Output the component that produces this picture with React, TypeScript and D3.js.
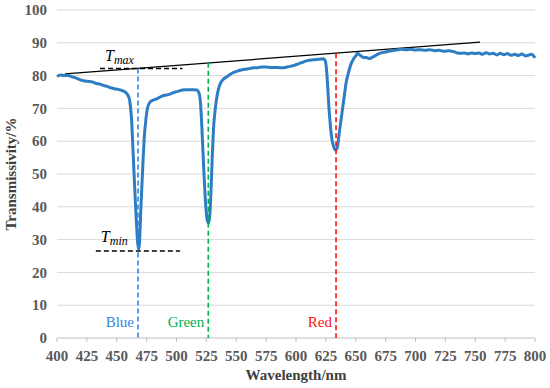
import React from 'react';
import * as d3 from 'd3';

const wavelength = [
  400, 403, 406, 409, 412, 415, 418, 421, 424, 427, 430, 433, 436, 439, 442, 445, 448, 451, 454, 457,
  459, 460.5, 461.5, 462.5, 463.5, 464.5, 465.5, 466.5, 467.5, 468.3, 469.3, 470, 471, 472, 473, 474.5,
  476, 478, 481, 484, 487, 490, 493, 496, 499, 502, 505, 508, 511, 514, 517, 519, 520, 521, 522, 523,
  524, 525, 526, 527, 528, 529, 530, 531, 532.5, 534, 536, 539, 542, 545, 548, 551, 555, 559, 563, 567,
  571, 575, 579, 583, 587, 591, 595, 599, 602, 605, 608, 611, 614, 617, 620, 623, 624.5, 625.5, 626.5,
  627.5, 628.5, 629.5, 631, 633, 634.5, 636, 637.5, 639, 640.5, 642, 644, 646, 648, 650, 651.5, 653,
  655, 657, 659, 661, 663, 666, 669, 672, 676, 680, 684, 688, 692, 696, 700, 704, 708, 712, 716, 720,
  724, 728, 732, 735, 738, 741, 744, 747, 750, 753, 756, 759, 762, 765, 768, 771, 774, 777, 780, 783,
  786, 789, 792, 795, 797, 800,
];
const transmissivity = [
  79.7, 80.2, 80.0, 80.1, 79.7, 79.4, 78.9, 78.5, 78.3, 78.2, 78.0, 77.6, 77.4, 77.0, 76.7, 76.3, 76.0, 75.8, 75.5, 75.0,
  74.2, 73.0, 70.5, 66, 58, 50, 42, 35, 29, 27.2, 31, 38, 46, 54, 61, 67,
  70.5, 72, 72.6, 73.0, 73.6, 74.0, 74.2, 74.6, 75.0, 75.3, 75.6, 75.7, 75.7, 75.7, 75.6, 74.5, 72, 66, 58, 50,
  43, 38, 35.5, 35, 38, 46, 56, 64, 70, 74, 77, 78.8, 79.6, 80.4, 81.0, 81.4, 81.8, 82.0, 82.3, 82.4,
  82.6, 82.6, 82.5, 82.5, 82.4, 82.5, 82.8, 83.2, 83.6, 84.0, 84.4, 84.7, 84.8, 84.9, 85.0, 85.1, 84.5, 82, 77,
  70.5, 66, 62, 59, 57.3, 58, 62, 66, 70, 74, 78, 81, 83.5, 85, 86, 86.8, 86.4,
  85.8, 85.5, 85.5, 85.2, 85.4, 86, 86.6, 87, 87.3, 87.6, 87.8, 88.0, 87.9, 88.0, 87.8, 87.9, 87.7, 87.9, 87.6, 87.7,
  87.4, 87.6, 87.3, 86.9, 86.8, 86.9, 86.6, 86.9, 86.7, 86.9, 86.5, 87.0, 86.6, 86.8, 86.3, 86.8, 86.4, 86.7, 86.2, 86.5,
  86.1, 86.6, 86.0, 86.3, 86.5, 85.4,
];

const xTicks = d3.range(400, 801, 25);
const yTicks = d3.range(0, 101, 10);

// tangent line through the maxima
const tangentX = [406.7, 754];
const tangentY = [80.5, 90.2];

// peak markers
const peakNames = ['Blue', 'Green', 'Red'];
const peakWavelength = [467.8, 526.6, 633.5];
const peakTop = [82.2, 83.9, 86.8];
const peakColors = ['#2E86DE', '#00B050', '#FF1010'];

// Tmax / Tmin guides
const tMaxLevel = 82.2;
const tMaxRange = [436, 505];
const tMinLevel = 26.5;
const tMinRange = [432.5, 503];

const serif = 'Liberation Serif, serif';

export default function App() {
  const width = 550;
  const height = 388;
  const margin = {
    top: 10, right: 15, bottom: 50, left: 57,
  };
  const innerWidth = width - margin.left - margin.right;
  const innerHeight = height - margin.top - margin.bottom;

  const xScale = d3.scaleLinear().domain([400, 800]).range([0, innerWidth]);
  const yScale = d3.scaleLinear().domain([0, 100]).range([innerHeight, 0]);

  const points: [number, number][] = wavelength.map((w, i) => [w, transmissivity[i]]);
  const line = d3.line<[number, number]>()
    .x((d) => xScale(d[0]))
    .y((d) => yScale(d[1]))
    .curve(d3.curveMonotoneX);

  return (
    <div style={{ position: 'absolute', left: 0, top: 0 }}>
      <svg width={width} height={height} style={{ display: 'block', background: '#fff' }}>
        <g transform={`translate(${margin.left}, ${margin.top})`}>
          {yTicks.map((t) => (
            <g key={`y${t}`} transform={`translate(0,${yScale(t)})`}>
              <line x2={innerWidth} stroke={t === 0 ? '#bfbfbf' : '#d9d9d9'} strokeWidth={1} />
              <text
                x={-10}
                dy="0.35em"
                fontFamily={serif}
                fontWeight="bold"
                fontSize={15}
                fill="#595959"
                textAnchor="end"
              >
                {t}
              </text>
            </g>
          ))}
          {xTicks.map((t) => (
            <g key={`x${t}`} transform={`translate(${xScale(t)},${innerHeight})`}>
              <line y2={4} stroke="#bfbfbf" />
              <text
                y={23}
                fontFamily={serif}
                fontWeight="bold"
                fontSize={15}
                fill="#595959"
                textAnchor="middle"
              >
                {t}
              </text>
            </g>
          ))}

          <line
            x1={xScale(tangentX[0])}
            y1={yScale(tangentY[0])}
            x2={xScale(tangentX[1])}
            y2={yScale(tangentY[1])}
            stroke="#000"
            strokeWidth={1.3}
          />

          <line
            x1={xScale(tMaxRange[0])}
            x2={xScale(tMaxRange[1])}
            y1={yScale(tMaxLevel)}
            y2={yScale(tMaxLevel)}
            stroke="#000"
            strokeWidth={1.5}
            strokeDasharray="5,3"
          />
          <line
            x1={xScale(tMinRange[0])}
            x2={xScale(tMinRange[1])}
            y1={yScale(tMinLevel)}
            y2={yScale(tMinLevel)}
            stroke="#000"
            strokeWidth={1.5}
            strokeDasharray="5,3"
          />

          <path d={line(points) || ''} fill="none" stroke="#2E7DC4" strokeWidth={3} strokeLinejoin="round" />

          {peakNames.map((name, i) => (
            <g key={name}>
              <line
                x1={xScale(peakWavelength[i])}
                x2={xScale(peakWavelength[i])}
                y1={yScale(peakTop[i])}
                y2={yScale(0)}
                stroke={peakColors[i]}
                strokeWidth={1.6}
                strokeDasharray="5,3"
              />
              <text
                x={xScale(peakWavelength[i]) - 4}
                y={yScale(0) - 11}
                fontFamily={serif}
                fontSize={15}
                fill={peakColors[i]}
                textAnchor="end"
              >
                {name}
              </text>
            </g>
          ))}

          <text
            x={xScale(tMaxRange[0]) + 5}
            y={yScale(tMaxLevel) - 7}
            fontFamily={serif}
            fontStyle="italic"
            fontSize={16}
            fill="#000"
          >
            T
            <tspan fontSize={12} dy={3}>max</tspan>
          </text>
          <text
            x={xScale(tMinRange[0]) + 5}
            y={yScale(tMinLevel) - 9}
            fontFamily={serif}
            fontStyle="italic"
            fontSize={16}
            fill="#000"
          >
            T
            <tspan fontSize={12} dy={3}>min</tspan>
          </text>
        </g>

        <text
          x={margin.left + innerWidth / 2}
          y={380}
          fontFamily={serif}
          fontWeight="bold"
          fontSize={15}
          fill="#404040"
          textAnchor="middle"
        >
          Wavelength/nm
        </text>
        <text
          transform={`translate(16,${margin.top + innerHeight / 2}) rotate(-90)`}
          fontFamily={serif}
          fontWeight="bold"
          fontSize={15}
          fill="#404040"
          textAnchor="middle"
        >
          Transmissivity/%
        </text>
      </svg>
    </div>
  );
}
